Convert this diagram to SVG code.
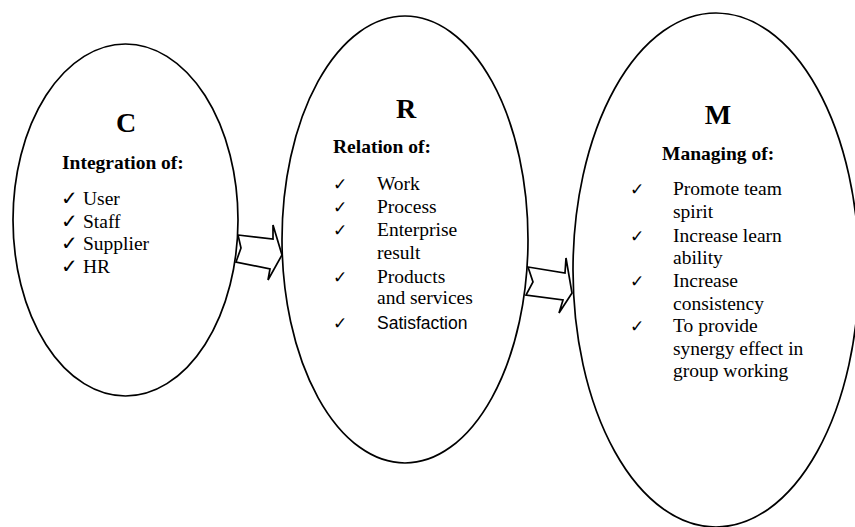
<svg xmlns="http://www.w3.org/2000/svg" width="855" height="527" viewBox="0 0 855 527">
<style>
.node ellipse{fill:none;stroke:#000;stroke-width:1.7}
.title{font-family:"Liberation Serif",serif;font-weight:bold;font-size:28px;text-anchor:middle}
.head{font-family:"Liberation Serif",serif;font-weight:bold;font-size:19.5px}
.item{font-family:"Liberation Serif",serif;font-size:19.5px}
.sans{font-family:"Liberation Sans",sans-serif;font-size:17.5px}
.chk{font-family:"DejaVu Sans",sans-serif;font-size:20px}
.chk2{font-family:"DejaVu Sans",sans-serif;font-size:17px}
.arrow{fill:#fff;stroke:#000;stroke-width:1.7;stroke-linejoin:miter}
</style>
<rect width="855" height="527" fill="#fff"/>
<g id="node-C" class="node">
<ellipse cx="125.5" cy="220" rx="112.5" ry="176"/>
<text class="title" x="126" y="132">C</text>
<text class="head" x="62" y="169">Integration of:</text>
<text class="chk" x="61" y="205">✓</text><text class="item" x="83" y="205">User</text>
<text class="chk" x="61" y="228">✓</text><text class="item" x="83" y="228">Staff</text>
<text class="chk" x="61" y="250">✓</text><text class="item" x="83" y="250">Supplier</text>
<text class="chk" x="61" y="273">✓</text><text class="item" x="83" y="273">HR</text>
</g>
<g id="node-R" class="node">
<ellipse cx="405" cy="239.5" rx="123" ry="223.5"/>
<text class="title" x="406" y="118">R</text>
<text class="head" x="333" y="153">Relation of:</text>
<text class="chk2" x="333" y="190">✓</text><text class="item" x="377" y="190">Work</text>
<text class="chk2" x="333" y="213">✓</text><text class="item" x="377" y="213">Process</text>
<text class="chk2" x="333" y="236">✓</text><text class="item" x="377" y="236">Enterprise</text>
<text class="item" x="377" y="259">result</text>
<text class="chk2" x="333" y="283">✓</text><text class="item" x="377" y="283">Products</text>
<text class="item" x="377" y="304">and services</text>
<text class="chk2" x="333" y="329">✓</text><text class="sans" x="377" y="329">Satisfaction</text>
</g>
<g id="node-M" class="node">
<ellipse cx="716" cy="270" rx="143" ry="257"/>
<text class="title" x="718" y="124">M</text>
<text class="head" x="662" y="160">Managing of:</text>
<text class="chk2" x="630" y="195">✓</text><text class="item" x="673" y="195">Promote team</text>
<text class="item" x="673" y="218">spirit</text>
<text class="chk2" x="630" y="242">✓</text><text class="item" x="673" y="242">Increase learn</text>
<text class="item" x="673" y="264">ability</text>
<text class="chk2" x="630" y="287">✓</text><text class="item" x="673" y="287">Increase</text>
<text class="item" x="673" y="310">consistency</text>
<text class="chk2" x="630" y="332">✓</text><text class="item" x="673" y="332">To provide</text>
<text class="item" x="673" y="355">synergy effect in</text>
<text class="item" x="673" y="377">group working</text>
</g>
<g id="connectors">
<polygon class="arrow" points="238,235 273,239 273,225 282,255 268,280 270,269 236,262 241,248"/>
<polygon class="arrow" points="528,267 565,273 566,258 572,293 559,313 563,300 526,295 533,282"/>
</g>
</svg>
